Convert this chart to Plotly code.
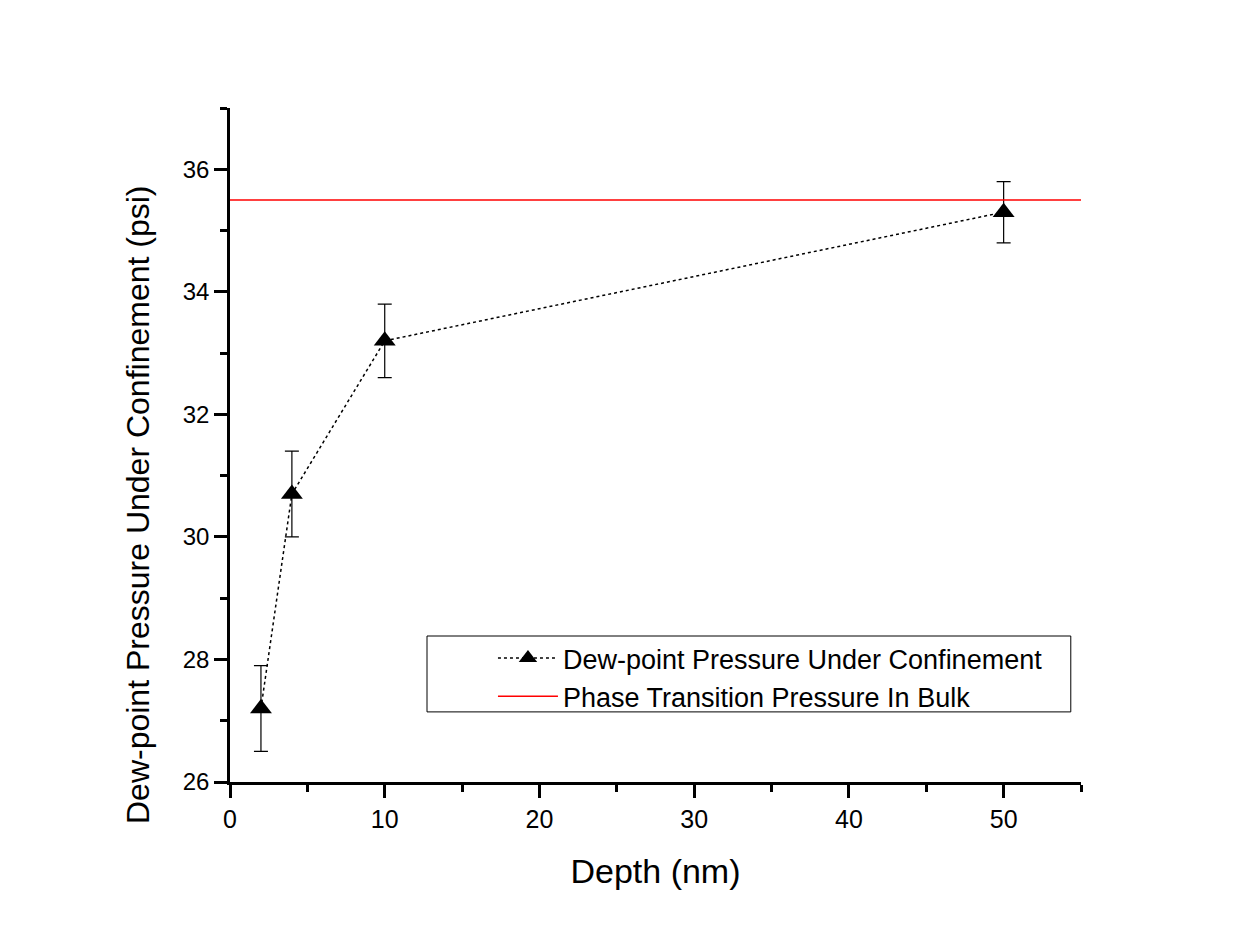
import plotly.graph_objects as go

depth = [2, 4, 10, 50]
pressure = [27.2, 30.7, 33.2, 35.3]
err = [0.7, 0.7, 0.6, 0.5]
bulk_x = [0, 55]
bulk_y = [35.5, 35.5]

FONT = "Liberation Sans, Arial, sans-serif"

fig = go.Figure()
fig.add_trace(go.Scatter(
    x=depth, y=pressure, mode="lines+markers",
    name="Dew-point Pressure Under Confinement",
    line=dict(color="black", width=1.5, dash="dot"),
    marker=dict(symbol="triangle-up", size=19, color="black"),
    error_y=dict(type="data", array=err, visible=True, color="black", thickness=1.2, width=7),
))
fig.add_trace(go.Scatter(
    x=bulk_x, y=bulk_y, mode="lines",
    name="Phase Transition Pressure In Bulk",
    line=dict(color="red", width=1.5),
))

# legend box
fig.add_shape(type="rect", xref="paper", yref="paper",
              x0=0.2315, x1=0.988, y0=0.104, y1=0.2166,
              line=dict(color="black", width=1), fillcolor="white", layer="below")

# y-axis title (positioned like the original, slightly below the axis centre)
fig.add_annotation(text="Dew-point Pressure Under Confinement (psi)",
                   xref="paper", yref="paper", x=(138 - 230) / 851, y=(782 - 505) / 674,
                   xanchor="center", yanchor="middle", textangle=-90, showarrow=False,
                   font=dict(size=32, family=FONT, color="black"))

fig.update_layout(
    width=1249, height=930,
    margin=dict(l=230, r=168, t=108, b=148),
    paper_bgcolor="white", plot_bgcolor="white",
    font=dict(family=FONT, color="black", size=24),
    showlegend=True,
    legend=dict(x=0.309, y=0.155, xanchor="left", yanchor="middle",
                bgcolor="rgba(0,0,0,0)", borderwidth=0,
                font=dict(size=27, family=FONT), itemwidth=60,
                tracegroupgap=0),
    xaxis=dict(range=[0, 55], tick0=0, dtick=10, showgrid=False, zeroline=False,
               showline=True, linecolor="black", linewidth=2.5,
               ticks="outside", ticklen=13, tickwidth=2.5, tickcolor="black",
               tickfont=dict(size=25),
               minor=dict(dtick=5, ticks="outside", ticklen=7, tickwidth=2.5, tickcolor="black"),
               title=dict(text="Depth (nm)", font=dict(size=34), standoff=28)),
    yaxis=dict(range=[26, 37], tick0=26, dtick=2, showgrid=False, zeroline=False,
               showline=True, linecolor="black", linewidth=2.5,
               ticks="outside", ticklen=13, tickwidth=2.5, tickcolor="black",
               tickfont=dict(size=24),
               minor=dict(dtick=1, ticks="outside", ticklen=7, tickwidth=2.5, tickcolor="black")),
)

fig.write_html("out.html")
